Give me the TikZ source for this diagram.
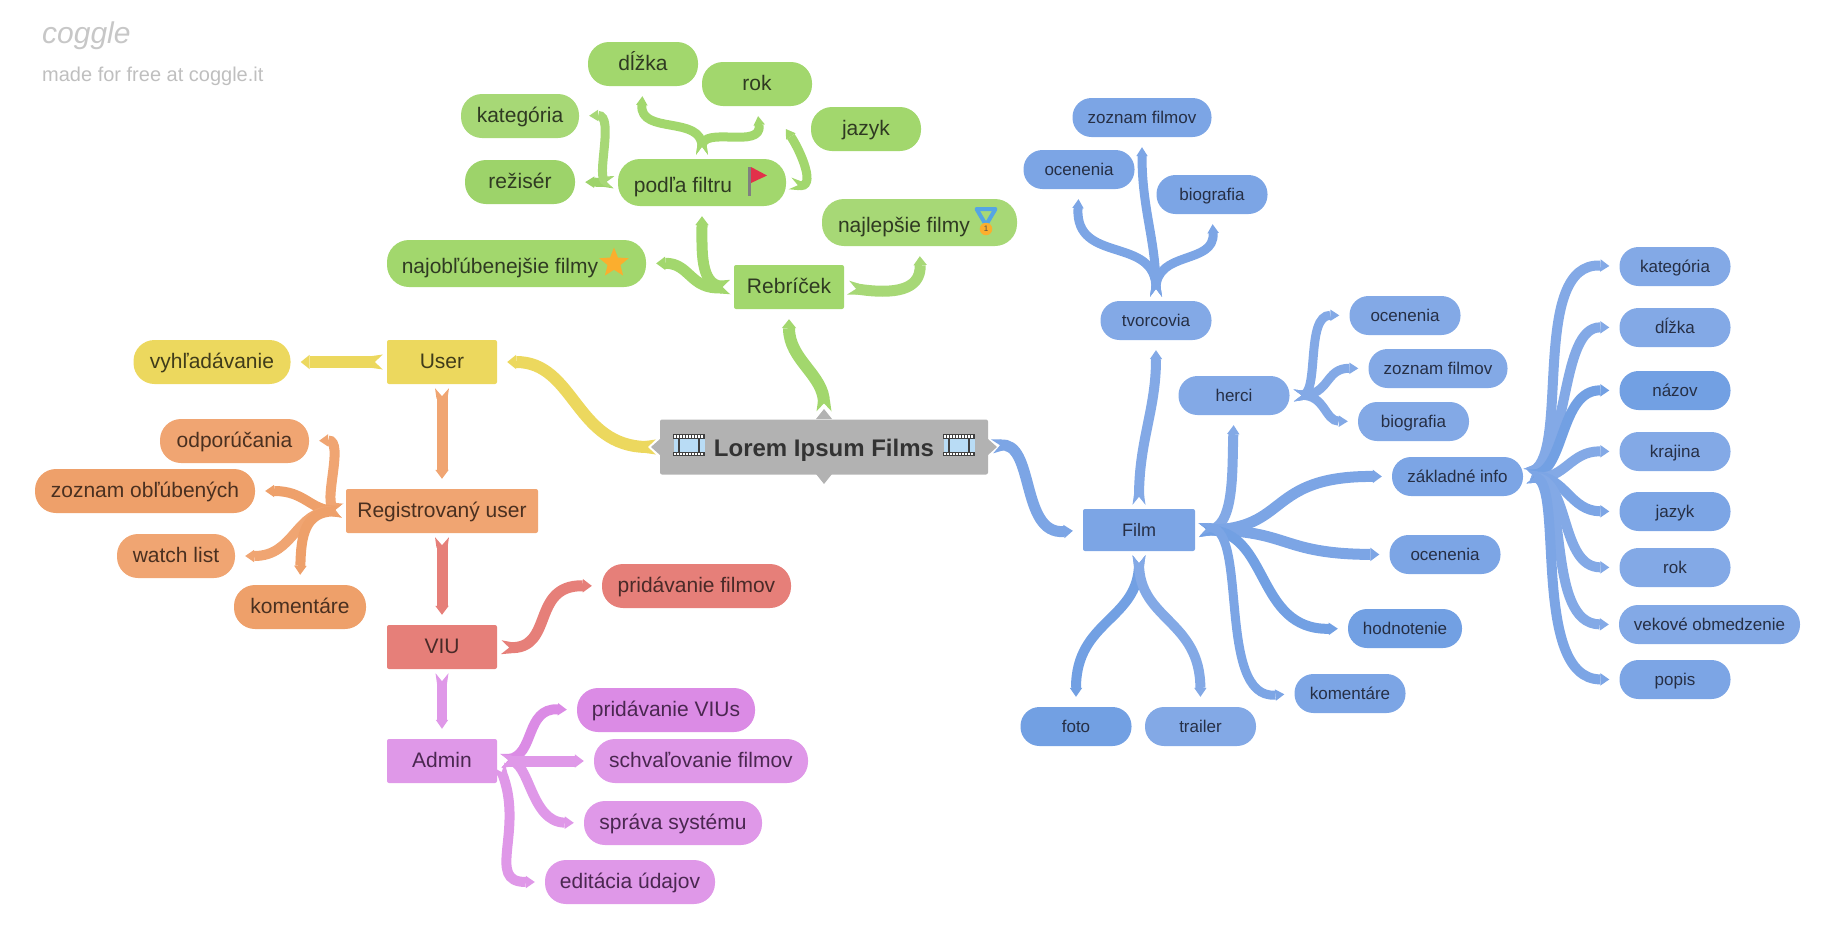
\documentclass[tikz,border=0pt]{standalone}
\usepackage{fontspec}
\setmainfont{Liberation Sans}
\usetikzlibrary{arrows.meta,shapes.geometric}
\definecolor{gA}{HTML}{A2D76D}
\definecolor{gB}{HTML}{A7D876}
\definecolor{gC}{HTML}{9DD36A}
\definecolor{gT}{HTML}{2F3A22}
\definecolor{yA}{HTML}{ECD85E}
\definecolor{yT}{HTML}{403C1A}
\definecolor{oA}{HTML}{F0A572}
\definecolor{oB}{HTML}{EEA06A}
\definecolor{oT}{HTML}{4A3020}
\definecolor{rA}{HTML}{E67F79}
\definecolor{rT}{HTML}{4A2A28}
\definecolor{pA}{HTML}{DF98E8}
\definecolor{pB}{HTML}{DB8BE5}
\definecolor{pT}{HTML}{4A2750}
\definecolor{bA}{HTML}{7CA5E5}
\definecolor{bB}{HTML}{83A9E6}
\definecolor{bC}{HTML}{72A0E3}
\definecolor{bT}{HTML}{262F45}
\definecolor{mA}{HTML}{B2B2B2}
\definecolor{filmBlue}{HTML}{B9DCF5}
\definecolor{starOrange}{HTML}{FBAE2E}
\definecolor{flagRed}{HTML}{E2304A}
\definecolor{medalBlue}{HTML}{55A5E3}
% swallow tail for the parent end of a branch
\pgfdeclarearrow{
  name = Notch,
  parameters = { \the\pgfarrowlength,\the\pgfarrowwidth },
  setup code = {
    \pgfarrowssettipend{0pt}
    \pgfarrowssetlineend{-\pgfarrowlength}
    \pgfarrowssetbackend{-1.3\pgfarrowlength}
    \pgfarrowssetvisualbackend{-1.3\pgfarrowlength}
    \pgfarrowshullpoint{0pt}{.5\pgfarrowwidth}
    \pgfarrowshullpoint{0pt}{-.5\pgfarrowwidth}
    \pgfarrowshullpoint{-1.3\pgfarrowlength}{.5\pgfarrowwidth}
    \pgfarrowshullpoint{-1.3\pgfarrowlength}{-.5\pgfarrowwidth}
    \pgfarrowssavethe\pgfarrowlength
    \pgfarrowssavethe\pgfarrowwidth
  },
  drawing code = {
    \pgfpathmoveto{\pgfpoint{0pt}{.5\pgfarrowwidth}}
    \pgfpathlineto{\pgfpoint{-\pgfarrowlength}{0pt}}
    \pgfpathlineto{\pgfpoint{0pt}{-.5\pgfarrowwidth}}
    \pgfpathlineto{\pgfpoint{-1.3\pgfarrowlength}{-.5\pgfarrowwidth+1.5pt}}
    \pgfpathlineto{\pgfpoint{-1.3\pgfarrowlength}{.5\pgfarrowwidth-1.5pt}}
    \pgfpathclose
    \pgfusepathqfill
  },
  defaults = { length = 8pt, width = 3pt 1 }
}
\tikzset{
  leaf/.style={rectangle, rounded corners=21pt, inner sep=0pt, align=center},
  bigtext/.style={font=\fontsize{21}{25}\selectfont, text height=18pt, text depth=5pt},
  box/.style={leaf, bigtext, rounded corners=2pt, minimum width=110pt, minimum height=44pt},
  bigleaf/.style={leaf, bigtext, minimum height=44pt},
  iconleaf/.style={bigleaf, fill=#1, text=gT, minimum height=47pt, rounded corners=22pt, text height=23pt, text depth=4pt},
  smallleaf/.style={leaf, rounded corners=19pt, minimum height=39pt, minimum width=111pt, fill=#1, text=bT, font=\fontsize{17}{20}\selectfont, text height=15pt, text depth=3.8pt},
  smallleaf/.default=bA,
  link/.style={draw=#1, line width=11pt, shorten <=4pt, shorten >=10pt,
    {Notch}-{Triangle[line width=0pt, length=9pt, width=2.5pt 1]}},
  link/.default=bA
}
\begin{document}
\begin{tikzpicture}[x=1pt, y=-1pt]
  \def\filmicon{
    \fill[filmBlue] (-15.5,-7) rectangle (15.5,7);
    \fill[black!75] (-16,-11) rectangle (16,-6.5);
    \fill[black!75] (-16,6.5) rectangle (16,11);
    \draw[black!75, line width=1.2pt] (-10,-6.5) -- (-10,6.5) (10,-6.5) -- (10,6.5);
    \foreach \tick in {-14,-11,...,14} {
      \fill[white] (\tick-.9,-10) rectangle (\tick+.9,-7.5);
      \fill[white] (\tick-.9,7.5) rectangle (\tick+.9,10);
    }
  }
  \path[use as bounding box] (0,0) rectangle (1840,951);

  % logo
  \node[text=black!22, font=\itshape\fontsize{30}{34}\selectfont, anchor=west, inner sep=0pt] (logo) at (42,36) {coggle};
  \node[text=black!25, font=\fontsize{20}{24}\selectfont, anchor=west, inner sep=0pt] (madefor) at (42,76) {made for free at coggle.it};

  % center
  \fill[mA] (816,419) -- (824,409) -- (832,419) -- cycle;
  \fill[mA] (816,474) -- (824,484) -- (832,474) -- cycle;
  \fill[mA] (660,439) -- (651,447) -- (660,455) -- cycle;
  \fill[mA] (988,439) -- (997,447) -- (988,455) -- cycle;
  \node[box, fill=mA, minimum width=328pt, minimum height=55pt, text=black!80, font=\bfseries\fontsize{24}{29}\selectfont, text height=24pt, text depth=5pt] (main) at (824,447) {Lorem Ipsum Films};
  \begin{scope}[shift={(689,445)}] \filmicon \end{scope}
  \begin{scope}[shift={(959,445)}] \filmicon \end{scope}

  % left column
  \node[box, fill=yA, text=yT] (user) at (442,362) {User};
  \node[bigleaf, fill=yA, text=yT, minimum width=157pt] (hladanie) at (212,362) {vyhľadávanie};
  \node[box, fill=oA, text=oT, minimum width=192pt] (reg) at (442,511) {Registrovaný user};
  \node[bigleaf, fill=oA, text=oT, minimum width=149pt] (odpor) at (234.5,441) {odporúčania};
  \node[bigleaf, fill=oB, text=oT, minimum width=220pt] (oblub) at (145,491) {zoznam obľúbených};
  \node[bigleaf, fill=oA, text=oT, minimum width=118pt] (watch) at (176,556) {watch list};
  \node[bigleaf, fill=oB, text=oT, minimum width=132pt] (komO) at (300,607) {komentáre};
  \node[box, fill=rA, text=rT] (viu) at (442,647) {VIU};
  \node[bigleaf, fill=rA, text=rT, minimum width=189pt] (pridF) at (696.5,586) {pridávanie filmov};
  \node[box, fill=pA, text=pT] (admin) at (442,761) {Admin};
  \node[bigleaf, fill=pB, text=pT, minimum width=178pt] (pridV) at (666,710) {pridávanie VIUs};
  \node[bigleaf, fill=pA, text=pT, minimum width=214pt] (schval) at (701,761) {schvaľovanie filmov};
  \node[bigleaf, fill=pA, text=pT, minimum width=178pt] (sprava) at (673,823) {správa systému};
  \node[bigleaf, fill=pA, text=pT, minimum width=170pt] (editacia) at (630,882) {editácia údajov};

  % green part
  \node[box, fill=gA, text=gT] (rebricek) at (789,287) {Rebríček};
  \node[iconleaf=gA, minimum width=168pt] (podla) at (702,182.5) {podľa filtru\hspace{38pt}};
  \node[iconleaf=gA, minimum width=259pt] (oblubene) at (516.5,263.5) {najobľúbenejšie filmy\hspace{33pt}};
  \node[iconleaf=gB, minimum width=195pt] (najlepsie) at (919.5,222.5) {najlepšie filmy\hspace{31pt}};
  \node[bigleaf, fill=gA, text=gT, minimum width=110pt] (dlzkaG) at (643,64) {dĺžka};
  \node[bigleaf, fill=gA, text=gT, minimum width=110pt] (rokG) at (757,84) {rok};
  \node[bigleaf, fill=gB, text=gT, minimum width=118pt] (kategG) at (520,116) {kategória};
  \node[bigleaf, fill=gA, text=gT, minimum width=110pt] (jazykG) at (866,129) {jazyk};
  \node[bigleaf, fill=gC, text=gT, minimum width=110pt] (reziser) at (520,182) {režisér};

  % flag, star, medal
  \begin{scope}[shift={(podla.center)}]
    \fill[black!50] (46,-15.5) rectangle (49,13.5);
    \fill[flagRed] (49,-15.5) -- (65,-7) -- (49,0.5) -- cycle;
  \end{scope}
  \node[star, star points=5, star point ratio=2.3, fill=starOrange, inner sep=0pt, minimum size=31pt] (starIcon) at (614,263) {};
  \begin{scope}[shift={(986,222)}]
    \draw[medalBlue, line width=4pt, line join=round] (-9.5,-13) -- (9.5,-13) -- (0,3) -- cycle;
  \end{scope}
  \node[circle, fill=starOrange, inner sep=0pt, minimum size=12.5pt, text=black!70, font=\fontsize{8}{9}\selectfont] (medal) at (986,229) {1};

  % blue part
  \node[box, fill=bA, text=bT, minimum width=112pt, minimum height=42pt, font=\fontsize{18}{21}\selectfont, text height=16pt, text depth=4pt] (film) at (1139,530) {Film};
  \node[smallleaf=bB] (tvorcovia) at (1156,320.5) {tvorcovia};
  \node[smallleaf, minimum width=139pt] (zoznamT) at (1142,117.5) {zoznam filmov};
  \node[smallleaf] (ocenT) at (1079,169.5) {ocenenia};
  \node[smallleaf] (bioT) at (1212,194.5) {biografia};
  \node[smallleaf=bB] (herci) at (1234,395.5) {herci};
  \node[smallleaf=bB] (ocenH) at (1405,315.5) {ocenenia};
  \node[smallleaf=bB, minimum width=139pt] (zoznamH) at (1438,368.5) {zoznam filmov};
  \node[smallleaf=bB] (bioH) at (1413.5,421.5) {biografia};
  \node[smallleaf, minimum width=131pt] (zakl) at (1457.5,476.5) {základné info};
  \node[smallleaf] (ocenF) at (1445,554.5) {ocenenia};
  \node[smallleaf=bC, minimum width=114pt] (hodn) at (1405,628.5) {hodnotenie};
  \node[smallleaf] (komF) at (1350,693.5) {komentáre};
  \node[smallleaf=bC] (foto) at (1076,726.5) {foto};
  \node[smallleaf=bB] (trailer) at (1200.5,726.5) {trailer};
  \node[smallleaf=bB] (kategB) at (1675,266.5) {kategória};
  \node[smallleaf=bB] (dlzkaB) at (1675,327.5) {dĺžka};
  \node[smallleaf=bC] (nazov) at (1675,390.5) {názov};
  \node[smallleaf=bB] (krajina) at (1675,451.5) {krajina};
  \node[smallleaf] (jazykB) at (1675,511.5) {jazyk};
  \node[smallleaf=bB] (rokB) at (1675,567.5) {rok};
  \node[smallleaf=bB, minimum width=181pt] (vek) at (1709.5,624.5) {vekové obmedzenie};
  \node[smallleaf] (popis) at (1675,679.5) {popis};

  % branches, left
  \draw[link=yA, line width=12pt] (main.west) .. controls (575,447) and (575,362) .. (user.east);
  \draw[link=yA, line width=12pt] (user.west) -- (hladanie.east);
  \draw[link=oA] (user.south) -- (reg.north);
  \draw[link=rA] (reg.south) -- (viu.north);
  \draw[link=pA, line width=10pt] (viu.south) -- (admin.north);
  \draw[link=oA, line width=10pt] (reg.west) .. controls (322,505) and (345,440) .. (odpor.east);
  \draw[link=oB, line width=10pt] (reg.west) .. controls (310,510) and (305,491) .. (oblub.east);
  \draw[link=oA, line width=10pt] (reg.west) .. controls (295,510) and (295,556) .. (watch.east);
  \draw[link=oB, line width=10pt] (reg.west) .. controls (305,512) and (301,535) .. (komO.north);
  \draw[link=rA] (viu.east) .. controls (555,650) and (530,585) .. (pridF.west);
  \draw[link=pB, line width=10pt] (admin.east) .. controls (535,755) and (525,708) .. (pridV.west);
  \draw[link=pA] (admin.east) -- (schval.west);
  \draw[link=pA, line width=10pt] (admin.east) .. controls (530,760) and (530,822) .. (sprava.west);
  \draw[link=pA, line width=10pt] (admin.east) .. controls (525,830) and (485,882) .. (editacia.west);

  % branches, green
  \draw[link=gA, line width=12pt, shorten <=8pt] (main.north) .. controls (824,375) and (789,360) .. (rebricek.south);
  \draw[link=gA] (rebricek.west) .. controls (700,285) and (702,250) .. (podla.south);
  \draw[link=gA] (rebricek.west) .. controls (690,290) and (690,263) .. (oblubene.east);
  \draw[link=gB] (rebricek.east) .. controls (895,295) and (921,290) .. (najlepsie.south);
  \draw[link=gC, line width=9pt] (podla.west) -- (reziser.east);
  \draw[link=gB, line width=9pt] (podla.west) .. controls (595,180) and (615,115) .. (kategG.east);
  \draw[link=gA, line width=9pt] (podla.north) .. controls (702,125) and (762,150) .. (rokG.south);
  \draw[link=gA, line width=9pt] (podla.north) .. controls (702,115) and (640,135) .. (dlzkaG.south);
  \draw[link=gA, line width=9pt, shorten >=0pt] (podla.east) .. controls (818,190) and (800,150) .. ([xshift=-25pt]jazykG.west);

  % branches, blue
  \draw[link] (main.east) .. controls (1035,440) and (1020,535) .. (film.west);
  \draw[link=bB, line width=10pt] (film.north) .. controls (1139,440) and (1156,410) .. (tvorcovia.south);
  \draw[link, line width=9pt] (tvorcovia.north) .. controls (1156,240) and (1142,210) .. (zoznamT.south);
  \draw[link, line width=9pt] (tvorcovia.north) .. controls (1156,235) and (1075,265) .. (ocenT.south);
  \draw[link, line width=9pt] (tvorcovia.north) .. controls (1156,250) and (1215,265) .. (bioT.south);
  \draw[link=bB, line width=10pt] (film.east) .. controls (1235,530) and (1232,470) .. (herci.south);
  \draw[link=bB, line width=9pt] (herci.east) .. controls (1320,395) and (1305,315) .. (ocenH.west);
  \draw[link=bB, line width=9pt] (herci.east) .. controls (1330,395) and (1325,368) .. (zoznamH.west);
  \draw[link=bB, line width=9pt] (herci.east) .. controls (1325,395) and (1325,421) .. (bioH.west);
  \draw[link] (film.east) .. controls (1290,530) and (1265,476) .. (zakl.west);
  \draw[link] (film.east) .. controls (1290,530) and (1280,554) .. (ocenF.west);
  \draw[link=bC, line width=10pt] (film.east) .. controls (1270,530) and (1255,630) .. (hodn.west);
  \draw[link, line width=9pt] (film.east) .. controls (1250,520) and (1215,700) .. (komF.west);
  \draw[link=bC, line width=10pt] (film.south) .. controls (1139,620) and (1076,620) .. (foto.north);
  \draw[link=bB, line width=10pt] (film.south) .. controls (1139,620) and (1200,620) .. (trailer.north);
  \draw[link=bB, line width=10pt] (zakl.east) .. controls (1570,450) and (1530,262) .. (kategB.west);
  \draw[link=bB, line width=10pt] (zakl.east) .. controls (1570,450) and (1560,327) .. (dlzkaB.west);
  \draw[link=bC, line width=10pt] (zakl.east) .. controls (1565,470) and (1560,390) .. (nazov.west);
  \draw[link=bB, line width=10pt] (zakl.east) .. controls (1565,480) and (1570,451) .. (krajina.west);
  \draw[link, line width=10pt] (zakl.east) .. controls (1565,476) and (1570,511) .. (jazykB.west);
  \draw[link=bB, line width=10pt] (zakl.east) .. controls (1570,480) and (1560,567) .. (rokB.west);
  \draw[link=bB, line width=10pt] (zakl.east) .. controls (1570,480) and (1545,624) .. (vek.west);
  \draw[link, line width=10pt] (zakl.east) .. controls (1565,480) and (1530,679) .. (popis.west);
\end{tikzpicture}
\end{document}
